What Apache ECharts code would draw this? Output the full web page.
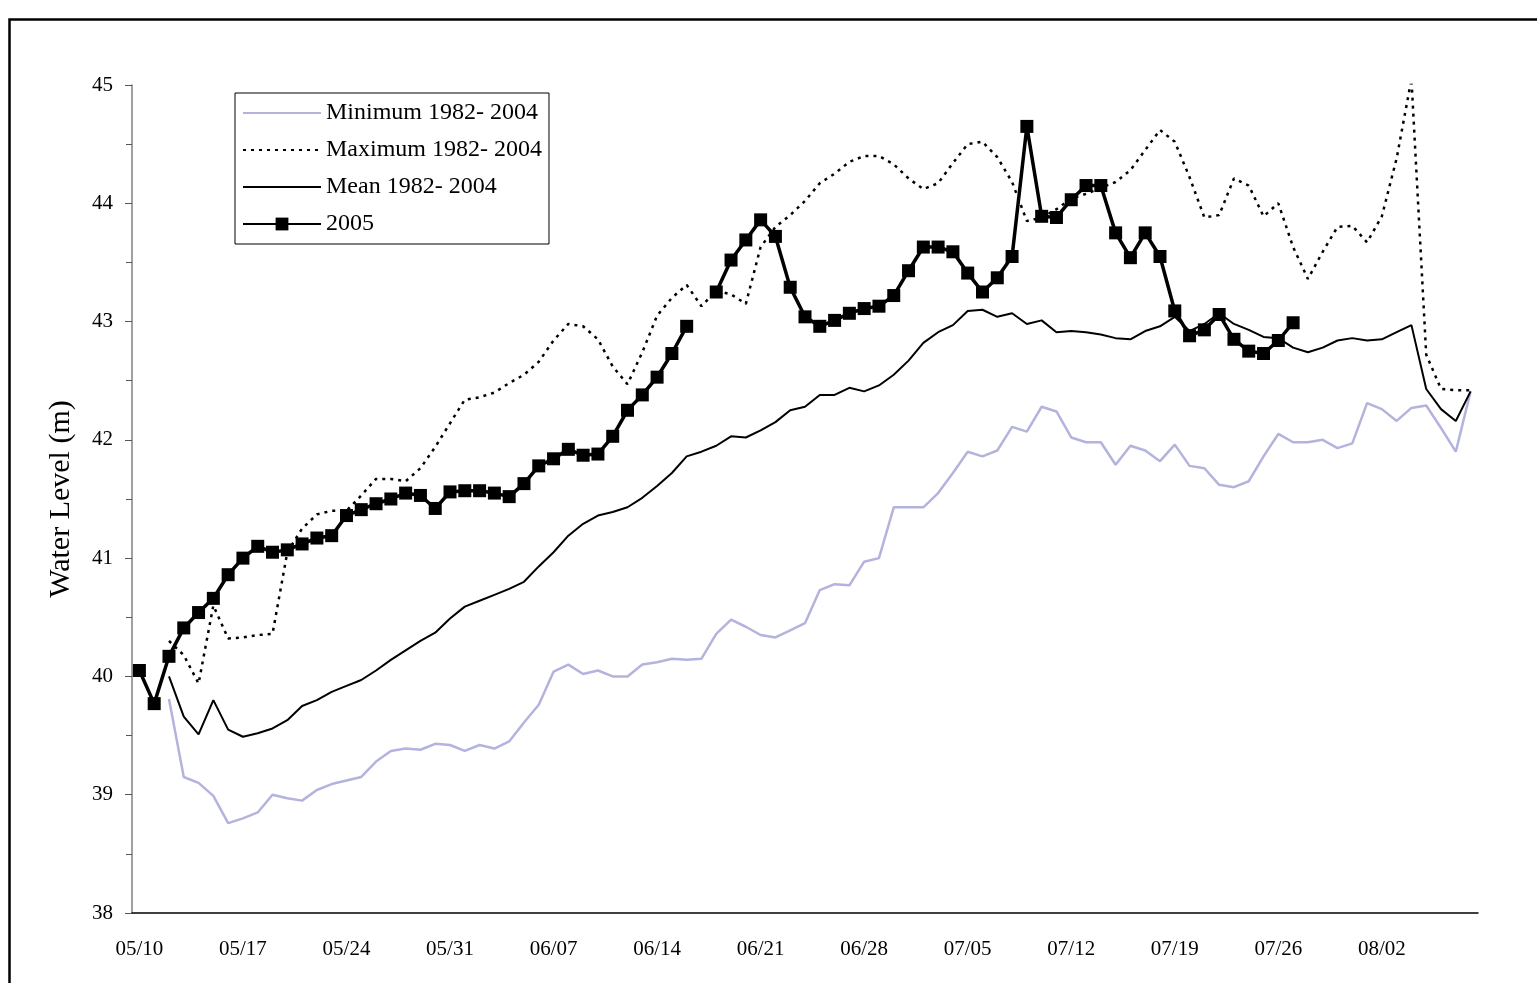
<!DOCTYPE html>
<html>
<head>
<meta charset="utf-8">
<script src="https://cdn.jsdelivr.net/npm/echarts@6/dist/echarts.min.js"></script>
<style>
html,body{margin:0;padding:0;background:#fff;}
#chart{width:1537px;height:983px;}
</style>
</head>
<body>
<div id="chart"></div>
<script>
var dates = [
'05/10','05/11','05/12','05/13','05/14','05/15','05/16','05/17','05/18','05/19','05/20','05/21','05/22','05/23','05/24','05/25','05/26','05/27','05/28','05/29','05/30','05/31',
'06/01','06/02','06/03','06/04','06/05','06/06','06/07','06/08','06/09','06/10','06/11','06/12','06/13','06/14','06/15','06/16','06/17','06/18','06/19','06/20','06/21','06/22','06/23','06/24','06/25','06/26','06/27','06/28','06/29','06/30',
'07/01','07/02','07/03','07/04','07/05','07/06','07/07','07/08','07/09','07/10','07/11','07/12','07/13','07/14','07/15','07/16','07/17','07/18','07/19','07/20','07/21','07/22','07/23','07/24','07/25','07/26','07/27','07/28','07/29','07/30','07/31',
'08/01','08/02','08/03','08/04','08/05','08/06','08/07','08/08'
];

var minimum = [null,null,
39.81,39.15,39.10,38.99,38.76,38.80,38.85,39.00,38.97,38.95,39.04,39.09,39.12,39.15,39.28,39.37,39.39,39.38,39.43,39.42,
39.37,39.42,39.39,39.45,39.61,39.76,40.04,40.10,40.02,40.05,40.00,40.00,40.10,40.12,40.15,40.14,40.15,40.36,40.48,40.42,
40.35,40.33,40.39,40.45,40.73,40.78,40.77,40.97,41.00,41.43,41.43,41.43,41.55,41.72,41.90,41.86,41.91,42.11,42.07,42.28,
42.24,42.02,41.98,41.98,41.79,41.95,41.91,41.82,41.96,41.78,41.76,41.62,41.60,41.65,41.86,42.05,41.98,41.98,42.00,41.93,
41.97,42.31,42.26,42.16,42.27,42.29,42.10,41.90,42.41];

var maximum = [null,null,
40.30,40.18,39.94,40.60,40.32,40.33,40.35,40.36,41.05,41.25,41.37,41.40,41.40,41.53,41.67,41.67,41.65,41.76,41.94,42.14,
42.34,42.36,42.40,42.48,42.55,42.66,42.84,42.98,42.96,42.85,42.62,42.47,42.74,43.05,43.20,43.31,43.13,43.26,43.23,43.15,
43.63,43.80,43.90,44.02,44.17,44.25,44.35,44.40,44.40,44.33,44.21,44.12,44.17,44.34,44.50,44.52,44.39,44.18,43.85,43.88,
43.95,44.04,44.08,44.13,44.18,44.28,44.45,44.62,44.52,44.22,43.88,43.90,44.21,44.15,43.89,44.00,43.63,43.36,43.59,43.80,
43.81,43.67,43.89,44.38,45.05,42.72,42.43,42.42,42.42];

var mean = [null,null,
40.00,39.66,39.51,39.80,39.55,39.49,39.52,39.56,39.63,39.75,39.80,39.87,39.92,39.97,40.05,40.14,40.22,40.30,40.37,40.49,
40.59,40.64,40.69,40.74,40.80,40.93,41.05,41.19,41.29,41.36,41.39,41.43,41.51,41.61,41.72,41.86,41.90,41.95,42.03,42.02,
42.08,42.15,42.25,42.28,42.38,42.38,42.44,42.41,42.46,42.55,42.67,42.82,42.91,42.97,43.09,43.10,43.04,43.07,42.98,43.01,
42.91,42.92,42.91,42.89,42.86,42.85,42.92,42.96,43.04,42.92,42.98,43.07,42.98,42.93,42.87,42.86,42.78,42.74,42.78,42.84,
42.86,42.84,42.85,42.91,42.97,42.43,42.26,42.16,42.41];

var y2005 = [
40.05,39.77,40.17,40.41,40.54,40.66,40.86,41.00,41.10,41.05,41.07,41.12,41.17,41.19,41.36,41.41,41.46,41.50,41.55,41.53,41.42,41.56,
41.57,41.57,41.55,41.52,41.63,41.78,41.84,41.92,41.87,41.88,42.03,42.25,42.38,42.53,42.73,42.96,null,43.25,43.52,43.69,
43.86,43.72,43.29,43.04,42.96,43.01,43.07,43.11,43.13,43.22,43.43,43.63,43.63,43.59,43.41,43.25,43.37,43.55,44.65,43.89,
43.88,44.03,44.15,44.15,43.75,43.54,43.75,43.55,43.09,42.88,42.93,43.06,42.85,42.75,42.73,42.84,42.99,
null,null,null,null,null,null,null,null,null,null,null,null];

var names = ['Minimum 1982- 2004','Maximum 1982- 2004','Mean 1982- 2004','2005'];

var FONT = 'Liberation Serif';
var chart = echarts.init(document.getElementById('chart'), null, {renderer:'canvas'});
chart.setOption({
  animation: false,
  backgroundColor: '#fff',
  textStyle: {fontFamily: FONT},
  graphic: [{
    type: 'rect', left: 7, top: 17, silent: true, z: -1,
    shape: {x: 0, y: 0, width: 1600, height: 1000},
    style: {fill: 'none', stroke: '#000', lineWidth: 2.5}
  }],
  grid: {left: 132, right: 59, top: 85, bottom: 70, containLabel: false, outerBoundsMode: 'none'},
  legend: {
    orient: 'vertical', left: 235, top: 93,
    data: [
      {name: names[0], itemStyle: {opacity: 0}},
      {name: names[1], itemStyle: {opacity: 0}},
      {name: names[2], itemStyle: {opacity: 0}},
      {name: names[3]}
    ],
    itemWidth: 78, itemHeight: 16, itemGap: 13,
    padding: [8, 7, 8, 7],
    borderColor: '#000', borderWidth: 1,
    textStyle: {fontFamily: FONT, fontSize: 24, color: '#000', lineHeight: 24},
    inactiveColor: '#000'
  },
  xAxis: {
    type: 'category', data: dates, boundaryGap: true,
    axisLine: {lineStyle: {color: '#000', width: 1.5}},
    axisTick: {interval: 0, length: 6, lineStyle: {color: '#555'}},
    axisLabel: {interval: 6, margin: 26, fontFamily: FONT, fontSize: 21, color: '#000'},
    splitLine: {show: false}
  },
  yAxis: {
    type: 'value', min: 38, max: 45, interval: 1,
    name: 'Water Level (m)', nameLocation: 'middle', nameGap: 56, nameRotate: 90,
    nameTextStyle: {fontFamily: FONT, fontSize: 30, color: '#000'},
    axisLine: {show: true, lineStyle: {color: '#808080', width: 1.5}},
    axisTick: {show: true, length: 7, lineStyle: {color: '#555'}},
    minorTick: {show: true, splitNumber: 2, length: 6, lineStyle: {color: '#555'}},
    axisLabel: {margin: 19, fontFamily: FONT, fontSize: 21, color: '#000'},
    splitLine: {show: false}
  },
  series: [
    {name: names[0], type: 'line', data: minimum, symbol: 'none', showSymbol: false,
     lineStyle: {color: '#b3b3dd', width: 2.5}, itemStyle: {color: '#b3b3dd'}},
    {name: names[1], type: 'line', data: maximum, symbol: 'none', showSymbol: false,
     lineStyle: {color: '#000', width: 2.5, type: [3, 5]}, itemStyle: {color: '#000'}},
    {name: names[2], type: 'line', data: mean, symbol: 'none', showSymbol: false,
     lineStyle: {color: '#000', width: 2}, itemStyle: {color: '#000'}},
    {name: names[3], type: 'line', data: y2005, symbol: 'rect', symbolSize: 13, showAllSymbol: true, connectNulls: false,
     lineStyle: {color: '#000', width: 3.5}, itemStyle: {color: '#000'}}
  ]
});
</script>
</body>
</html>
